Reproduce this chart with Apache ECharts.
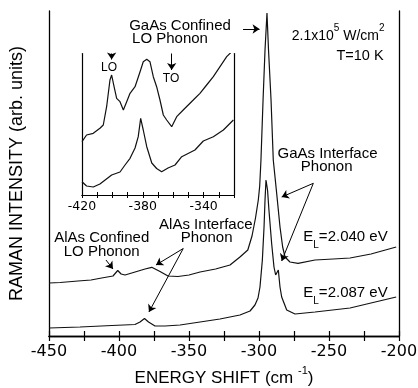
<!DOCTYPE html>
<html><head><meta charset="utf-8">
<script src="https://cdn.jsdelivr.net/npm/echarts@6/dist/echarts.min.js"></script>
<style>html,body{margin:0;padding:0;background:#fff}#c{width:418px;height:388px}</style>
</head><body><div id="c"></div>
<script>
// Main panel: Raman spectra (arb. units), energy shift in cm^-1
const upperShift = [-450,-442,-429.3,-420,-412.4,-404.3,-400.9,-398.5,-395.7,-390.9,-381.4,-376.6,-370.7,-365,-357.9,-350,-342.1,-331,-320.7,-313.6,-308,-305,-302.5,-300.5,-299.5,-298.6,-297.1,-295.7,-294.3,-293.2,-291.4,-289.8,-287.4,-285,-283.1,-281.4,-277.9,-272.1,-260,-247,-235,-220,-202];
const upperIntensity = [53,53.5,55,56,58,60,65.5,62,61,63,67,68.7,64.5,60,59.5,61,64,67,71,79,86,100,118,136,150,176,236,286,323,286,236,176,143,109,89,79,74,72.7,76,77,78,82,89];
const lowerShift = [-450,-427.9,-405,-388.6,-385,-381.8,-378.9,-374.3,-367.1,-356.4,-342.1,-327.9,-313.6,-306.4,-302.9,-300.7,-299.3,-297.6,-296.4,-295.7,-295,-293.9,-292.9,-291,-289.3,-288.1,-286.2,-285,-283.8,-280.2,-274.3,-260,-235,-202];
const lowerIntensity = [8,9,10.5,11.5,14,17.5,14,10,10,11,14,17,21,25,31,38,49,76,109,136,156,146,126,93,69,61,66,49,39,26,22,24,28,39];
// Inset panel
const insetUpperShift = [-420,-417,-412.6,-408.2,-406,-403.8,-401.6,-400.5,-398.9,-397.2,-395,-392.8,-390.6,-388.4,-385.1,-381.8,-379.7,-377.4,-375.3,-373.1,-370.9,-368.7,-366.5,-364.3,-361,-357.7,-353.4,-346.8,-342.4,-338,-333.6,-329.2,-324.8,-321.5];
const insetUpperIntensity = [53.3,60,61.7,66.7,70,88.3,115,120,108.3,96.7,93.3,85,93.3,101.7,108.3,123.3,133.3,135.7,133.3,118.3,108.3,95,80,75,68.3,78.3,85,95,101.7,110,118.3,128.3,138.3,143.3];
const insetLowerShift = [-420,-417,-412.6,-408.2,-400.5,-395,-391.7,-388.4,-385.1,-383,-381.4,-379.7,-377.4,-374.1,-370.9,-367.6,-363.4,-358.8,-354.4,-345.7,-340.2,-333.6,-327,-320.4];
const insetLowerIntensity = [13.3,9,8,11,20,23,30,36.7,47,58.3,76.7,65,48.3,32,26.5,23.3,27,30,38.3,45,54,58.3,65,75];
// Axis ranges / tick labels
const mainTickLabels = [-450,-400,-350,-300,-250,-200];
const insetTickLabels = [-420,-380,-340];

const zip = (xs, ys) => xs.map((x, i) => [x, ys[i]]);
const AF = 'Liberation Sans';
const TF = 'DejaVu Sans';
const lineStyle = {color: '#111', width: 1.2};
const arrowML = (pairs) => ({
  silent: true, symbol: ['none', 'arrow'], symbolSize: 7,
  label: {show: false}, lineStyle: {color: '#000', width: 1, type: 'solid'},
  emphasis: {disabled: true},
  data: pairs.map(p => [{coord: p[0]}, {coord: p[1]}])
});
const frameAxis = (extra) => Object.assign({
  type: 'value', splitLine: {show: false},
  axisLine: {show: true, lineStyle: {color: '#000', width: 1.3}},
}, extra);

const chart = echarts.init(document.getElementById('c'), null, {renderer: 'canvas'});
const txt = (text, x, y, size, align, extra) => ({
  type: 'text', x: x, y: y, silent: true,
  style: Object.assign({text: text, fill: '#000', fontSize: size, fontFamily: AF, align: align || 'center', verticalAlign: 'middle'}, extra || {})
});
const richStyle = (size) => ({
  n: {fontSize: size, fontFamily: AF, lineHeight: 26, fill: '#000'},
  sup: {fontSize: 10, fontFamily: AF, lineHeight: 10, verticalAlign: 'top', fill: '#000'},
  sub: {fontSize: 10, fontFamily: AF, lineHeight: 10, verticalAlign: 'bottom', fill: '#000'}
});

chart.setOption({
  animation: false,
  backgroundColor: '#fff',
  grid: [
    {left: 49, right: 19, top: 11, bottom: 52, outerBoundsMode: 'none', containLabel: false},
    {left: 82, right: 184, top: 53.5, bottom: 193, outerBoundsMode: 'none', containLabel: false}
  ],
  xAxis: [
    frameAxis({gridIndex: 0, position: 'bottom', min: -450, max: -200, interval: 25,
      axisTick: {show: true, inside: true, length: 5, lineStyle: {color: '#000', width: 1.2}},
      axisLabel: {show: true, margin: 8, color: '#000', fontSize: 16, fontFamily: TF,
        formatter: v => mainTickLabels.includes(v) ? String(v) : ''},
      name: 'ENERGY SHIFT (cm {sup|-1})', nameLocation: 'middle', nameGap: 29,
      nameTextStyle: {fontSize: 17, fontFamily: AF, color: '#000', lineHeight: 26,
        rich: {sup: {fontSize: 11, fontFamily: AF, lineHeight: 11, verticalAlign: 'top', color: '#000'}}}
    }),
    frameAxis({gridIndex: 0, position: 'top', min: -450, max: -200, interval: 25,
      axisTick: {show: true, inside: true, length: 5, lineStyle: {color: '#000', width: 1.2}},
      axisLabel: {show: false}}),
    frameAxis({gridIndex: 1, position: 'bottom', min: -420, max: -320, interval: 10,
      axisTick: {show: true, inside: true, length: 3, lineStyle: {color: '#000', width: 1}},
      axisLine: {show: true, lineStyle: {color: '#000', width: 1.2}},
      axisLabel: {show: true, margin: 5, color: '#000', fontSize: 12.5, fontFamily: TF,
        formatter: v => insetTickLabels.includes(v) ? String(v) : ''}}),
    frameAxis({gridIndex: 1, position: 'top', min: -420, max: -320, interval: 10,
      axisTick: {show: true, inside: true, length: 3, lineStyle: {color: '#000', width: 1}},
      axisLine: {show: true, lineStyle: {color: '#000', width: 1.2}},
      axisLabel: {show: false}})
  ],
  yAxis: [
    frameAxis({gridIndex: 0, position: 'left', min: 0, max: 325, axisTick: {show: false}, axisLabel: {show: false},
      name: 'RAMAN INTENSITY (arb. units)', nameLocation: 'middle', nameGap: 23, nameRotate: 90,
      nameTextStyle: {fontSize: 18, fontFamily: AF, color: '#000'}}),
    frameAxis({gridIndex: 0, position: 'right', min: 0, max: 325, axisTick: {show: false}, axisLabel: {show: false}}),
    frameAxis({gridIndex: 1, position: 'left', min: 0, max: 141.5, axisTick: {show: false}, axisLabel: {show: false},
      axisLine: {show: true, lineStyle: {color: '#000', width: 1.2}}}),
    frameAxis({gridIndex: 1, position: 'right', min: 0, max: 141.5, axisTick: {show: false}, axisLabel: {show: false},
      axisLine: {show: true, lineStyle: {color: '#000', width: 1.2}}})
  ],
  series: [
    {name: 'E_L=2.040 eV', type: 'line', xAxisIndex: 0, yAxisIndex: 0, data: zip(upperShift, upperIntensity),
      showSymbol: false, lineStyle: lineStyle,
      markLine: arrowML([
        [[-311.4, 307], [-299.6, 307]],
        [[-261.2, 152.7], [-283.8, 139]],
        [[-261.2, 152.7], [-283.8, 75]],
        [[-409.3, 76], [-404.3, 67]],
        [[-354.1, 87.5], [-373.6, 71]],
        [[-354.1, 87.5], [-378.6, 24]]
      ])},
    {name: 'E_L=2.087 eV', type: 'line', xAxisIndex: 0, yAxisIndex: 0, data: zip(lowerShift, lowerIntensity),
      showSymbol: false, lineStyle: lineStyle},
    {name: 'inset 2.040 eV', type: 'line', xAxisIndex: 2, yAxisIndex: 2, data: zip(insetUpperShift, insetUpperIntensity),
      showSymbol: false, lineStyle: lineStyle, clip: true,
      markLine: arrowML([
        [[-400.5, 141.5], [-400.5, 135.5]],
        [[-361, 141.5], [-361, 125]]
      ])},
    {name: 'inset 2.087 eV', type: 'line', xAxisIndex: 2, yAxisIndex: 2, data: zip(insetLowerShift, insetLowerIntensity),
      showSymbol: false, lineStyle: lineStyle, clip: true}
  ],
  graphic: [
    txt('GaAs Confined', 180, 26, 15),
    txt('LO Phonon', 170, 39, 15),
    txt('{n|2.1x10}{sup|5}{n| W/cm}{sup|2}', 291.7, 36, 14, 'left', {rich: richStyle(14)}),
    txt('T=10 K', 360, 56, 14.5),
    txt('LO', 109, 68, 12),
    txt('TO', 171, 79, 12),
    txt('GaAs Interface', 327.5, 154, 15),
    txt('Phonon', 326.7, 167, 15),
    txt('{n|E}{sub|L}{n|=2.040 eV}', 303.3, 237, 15, 'left', {rich: richStyle(15)}),
    txt('{n|E}{sub|L}{n|=2.087 eV}', 303.3, 293, 15, 'left', {rich: richStyle(15)}),
    txt('AlAs Interface', 205.8, 225, 15),
    txt('Phonon', 206.7, 238, 15),
    txt('AlAs Confined', 101.7, 238, 15),
    txt('LO Phonon', 101.7, 252, 15)
  ]
});
</script>
</body></html>
